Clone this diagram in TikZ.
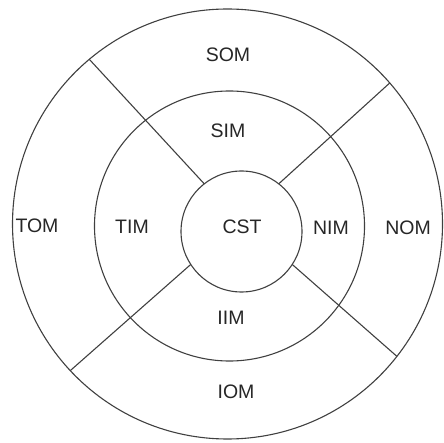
\documentclass[tikz,border=0pt]{standalone}
\usepackage{fontspec}
\setmainfont{Liberation Sans}
\usepackage{tikz}

\begin{document}
\begin{tikzpicture}[
    x=1pt, y=-1pt,
    ring/.style={draw=black!75, line width=1.1pt, circle, inner sep=0pt, outer sep=0pt},
    spoke/.style={draw=black!75, line width=1.1pt},
    lbl/.style={font=\fontsize{19.5}{22}\selectfont, text=black!85, inner sep=0pt}
]
    \useasboundingbox (0,0) rectangle (444,443);

    \node[ring, minimum size=430pt] (outer) at (227.5,224) {};
    \node[ring, minimum size=270pt] (middle) at (229.5,226) {};
    \node[ring, minimum size=121pt] (inner) at (241.5,231.5) {};

    \draw[spoke] (inner.128) -- (outer.130);
    \draw[spoke] (inner.52) -- (outer.41);
    \draw[spoke] (inner.213) -- (outer.223);
    \draw[spoke] (inner.327) -- (outer.322);

    \node[lbl] (cst) at (242,227) {CST};
    \node[lbl] (sim) at (228,131) {SIM};
    \node[lbl] (som) at (228,55) {SOM};
    \node[lbl] (tim) at (132,227) {TIM};
    \node[lbl] (tom) at (37,226) {TOM};
    \node[lbl] (nim) at (331,228) {NIM};
    \node[lbl] (nom) at (408,228) {NOM};
    \node[lbl] (iim) at (231,318) {IIM};
    \node[lbl] (iom) at (236,392) {IOM};
\end{tikzpicture}
\end{document}
